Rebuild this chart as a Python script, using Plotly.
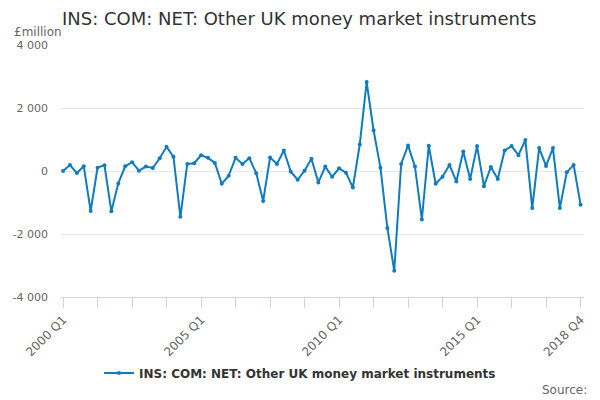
import plotly.graph_objects as go

# quarters 2000 Q1 .. 2018 Q4
quarters = [f"{y} Q{q}" for y in range(2000, 2019) for q in range(1, 5)]

# £million
values = [
    0, 190, -65, 150, -1270, 107, 180, -1280, -395, 150,
    280, 10, 140, 96, 406, 770, 450, -1455, 225, 246,
    500, 417, 257, -406, -150, 417, 225, 406, -75, -952,
    428, 225, 652, -21, -278, 10, 385, -364, 139, -182,
    86, -53, -524, 845, 2824, 1294, 107, -1807, -3166, 225,
    813, 139, -1540, 802, -406, -182, 193, -332, 620, -257,
    791, -481, 128, -257, 652, 791, 503, 984, -1176, 727,
    160, 727, -1176, -43, 193, -1070,
]

tick_idx = list(range(0, 76, 5))
tick_labels = {0: "2000 Q1", 20: "2005 Q1", 40: "2010 Q1", 60: "2015 Q1", 75: "2018 Q4"}
y_ticks = [-4000, -2000, 0, 2000, 4000]
y_labels = ["-4 000", "-2 000", "0", "2 000", "4 000"]

blue = "#0f7cc0"
font = "DejaVu Sans"

fig = go.Figure(go.Scatter(
    x=list(range(len(values))),
    y=values,
    mode="lines+markers",
    name="INS: COM: NET: Other UK money market instruments",
    line=dict(color=blue, width=2),
    marker=dict(color=blue, size=4),
    customdata=quarters,
    hovertemplate="%{customdata}: %{y}<extra></extra>",
))

fig.update_layout(
    width=600, height=400,
    margin=dict(l=61, r=16, t=45, b=103, autoexpand=False),
    paper_bgcolor="white", plot_bgcolor="white",
    font=dict(family=font, color="#666666", size=11),
    title=dict(text="INS: COM: NET: Other UK money market instruments",
               x=62 / 600, xanchor="left", y=1 - 19 / 400, yanchor="middle",
               font=dict(size=18, color="#333333", family=font)),
    showlegend=True,
    legend=dict(orientation="h", xref="container", yref="container",
                x=0.5, xanchor="center", y=1 - 373 / 400, yanchor="middle",
                itemwidth=30,
                font=dict(size=12, color="#333333", family=font, weight="bold")),
    xaxis=dict(range=[-0.3, 75.5], tickvals=tick_idx,
               ticktext=[tick_labels.get(i, "") for i in tick_idx],
               tickangle=-45, showgrid=False, showline=True, automargin=False,
               linecolor="#ccd6eb", ticks="outside", tickcolor="#ccd6eb",
               ticklen=10, zeroline=False, tickfont=dict(size=12, color="#666666")),
    yaxis=dict(range=[-4000, 4000], tickvals=y_ticks, ticktext=y_labels,
               showgrid=True, gridcolor="#e6e6e6", zeroline=False, automargin=False,
               showline=False, ticklabelstandoff=12,
               tickfont=dict(size=11, color="#666666")),
    annotations=[
        dict(text="£million", xref="paper", yref="paper", x=-61 / 523 + 12 / 523,
             y=1 + 13 / 252, xanchor="left", yanchor="middle", showarrow=False,
             font=dict(size=12, color="#666666", family=font)),
        dict(text="Source:", xref="paper", yref="paper", x=1 + 5 / 523,
             y=-93 / 252, xanchor="right", yanchor="middle", showarrow=False,
             font=dict(size=12, color="#666666", family=font)),
    ],
)

# page has a default body margin; drop it so the chart sits at the window corner
fig.write_html("out.html", config={"displayModeBar": False},
               post_script="document.body.style.margin='0';")
